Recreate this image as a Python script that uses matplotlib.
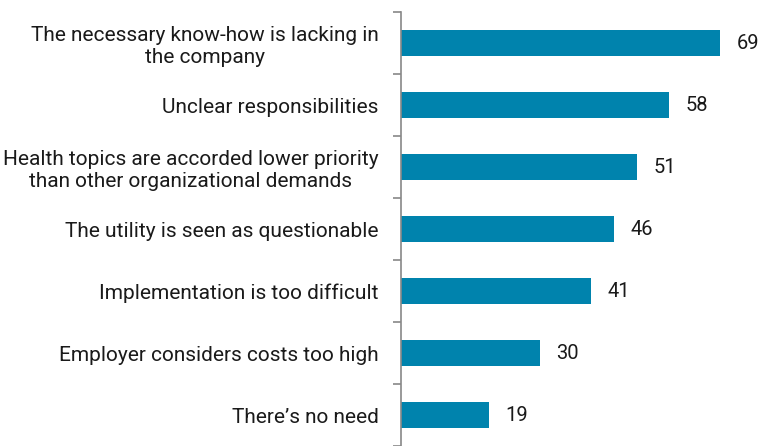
import matplotlib as mpl
import matplotlib.pyplot as plt
import numpy as np

mpl.rcParams["font.family"] = ["Roboto", "DejaVu Sans"]

categories = [
    "The necessary know-how is lacking in\nthe company",
    "Unclear responsibilities",
    "Health topics are accorded lower priority\nthan other organizational demands",
    "The utility is seen as questionable",
    "Implementation is too difficult",
    "Employer considers costs too high",
    "There\u2019s no need",
]
values = [69, 58, 51, 46, 41, 30, 19]

bar_color = "#0083AD"
text_color = "#1a1a1a"

fig = plt.figure(figsize=(7.75, 4.46), dpi=100)
ax = fig.add_axes([401 / 775, 0, 1 - 401 / 775 - 0.005, 1 - 12 / 446])

y = np.arange(len(categories))
ax.barh(y, values, height=0.41, color=bar_color)
for yi, v in zip(y, values):
    ax.text(v + 3.6, yi, str(v), va="center", ha="left", fontsize=14.5, color=text_color)

ax.set_ylim(len(categories) - 0.5, -0.5)
ax.set_xlim(0, 80)

ax.set_yticks(y)
ax.set_yticklabels(categories, fontsize=15, color=text_color, multialignment="center")
ax.tick_params(axis="y", which="major", length=0, pad=16)
ax.set_yticks(np.arange(-0.5, len(categories), 1), minor=True)
ax.tick_params(axis="y", which="minor", length=6, width=1.2, color="#888888")
ax.set_xticks([])

for s in ["top", "right", "bottom"]:
    ax.spines[s].set_visible(False)
ax.spines["left"].set_color("#888888")
ax.spines["left"].set_linewidth(1.2)

fig.savefig("out.png", dpi=100)
